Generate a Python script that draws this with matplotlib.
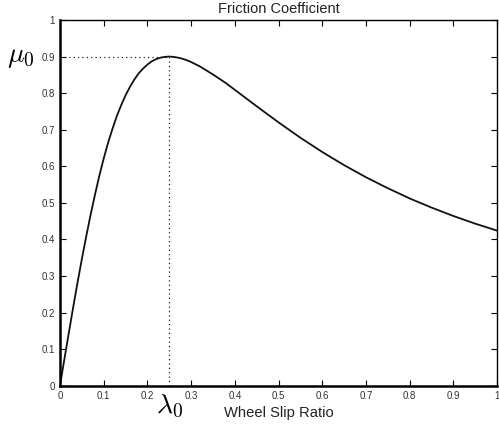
import matplotlib
matplotlib.use("Agg")
import matplotlib.pyplot as plt

plt.rcParams["font.family"] = ["Liberation Sans", "DejaVu Sans"]
plt.rcParams["mathtext.fontset"] = "cm"

# values
slip = [0, 0.01, 0.02, 0.03, 0.04, 0.05, 0.06, 0.07, 0.08, 0.09, 0.10, 0.11,
        0.12, 0.13, 0.14, 0.15, 0.16, 0.17, 0.18, 0.19, 0.20, 0.21, 0.22,
        0.23, 0.24, 0.25, 0.26, 0.27, 0.28, 0.29, 0.30, 0.32, 0.35, 0.38,
        0.40, 0.45, 0.50, 0.55, 0.60, 0.65, 0.70, 0.75, 0.80, 0.85, 0.90,
        0.95, 1.00]
friction = [0, 0.072, 0.143, 0.213, 0.281, 0.346, 0.408, 0.467, 0.522, 0.574,
            0.621, 0.664, 0.702, 0.737, 0.767, 0.794, 0.817, 0.837, 0.854,
            0.867, 0.878, 0.887, 0.893, 0.897, 0.899, 0.900, 0.899, 0.897,
            0.894, 0.890, 0.885, 0.873, 0.851, 0.827, 0.809, 0.764, 0.720,
            0.678, 0.639, 0.603, 0.570, 0.540, 0.512, 0.487, 0.464, 0.443,
            0.424]
peak_slip = 0.25
peak_mu = 0.9
ticks = [0, 0.1, 0.2, 0.3, 0.4, 0.5, 0.6, 0.7, 0.8, 0.9, 1]
tick_labels = ["0", "0.1", "0.2", "0.3", "0.4", "0.5", "0.6", "0.7", "0.8", "0.9", "1"]

fig = plt.figure(figsize=(4.99, 4.25), dpi=100)
ax = fig.add_axes([0.1202, 0.0925, 0.876, 0.8605])

ax.plot(slip, friction, color="#111111", lw=1.3)
ax.plot([0, peak_slip], [peak_mu, peak_mu], color="#222222", lw=0.9, ls=(0, (1, 2.5)))
ax.plot([peak_slip, peak_slip], [0, peak_mu], color="#222222", lw=0.9, ls=(0, (1, 2.5)))

ax.set_xlim(0, 1)
ax.set_ylim(0, 1)
ax.set_xticks(ticks, labels=tick_labels)
ax.set_yticks(ticks, labels=tick_labels)
ax.tick_params(direction="in", length=4, width=0.8, labelsize=7,
               labelcolor="#333333", top=True, right=True, pad=3.5)
for side in ("left", "bottom"):
    ax.spines[side].set_linewidth(1.8)
for side in ("top", "right"):
    ax.spines[side].set_linewidth(1.0)

ax.set_title("Friction Coefficient", fontsize=10.5, color="#222222", pad=5)
ax.set_xlabel("Wheel Slip Ratio", fontsize=10.6, color="#222222", labelpad=4)
ax.text(-0.09, peak_mu, r"$\mu_0$", fontsize=20, ha="center", va="center",
        clip_on=False)
ax.text(peak_slip, -0.058, r"$\lambda_0$", fontsize=20, ha="center", va="center",
        clip_on=False)

fig.savefig("out.png", dpi=100)
